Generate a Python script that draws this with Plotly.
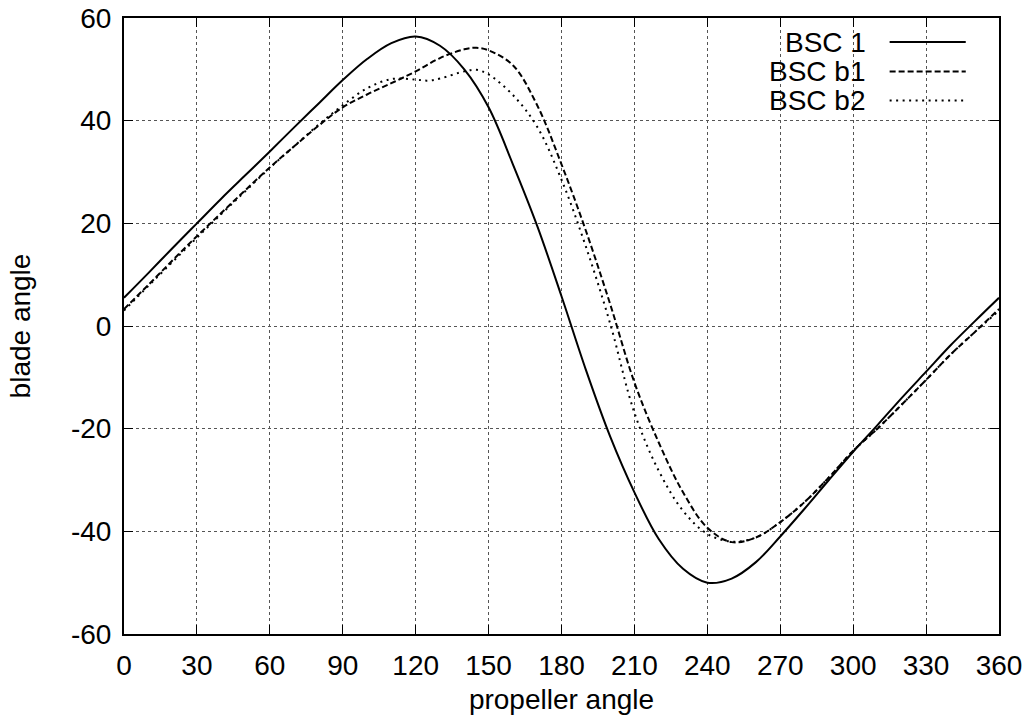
import plotly.graph_objects as go

# propeller angle (deg) / blade angle (deg)
bsc1_x = [0, 10, 20, 30, 40, 50, 60, 70, 80, 90, 100, 110, 120, 130, 140, 150, 160, 170, 180,
          190, 200, 210, 220, 230, 240, 250, 260, 270, 280, 290, 300, 310, 320, 330, 340, 350, 360]
bsc1_y = [5.5, 10.3, 15.2, 20.0, 24.8, 29.4, 34.0, 38.7, 43.3, 47.9, 52.0, 55.1, 56.4, 54.6, 50.0, 42.6, 31.5, 19.5, 5.8,
          -8.5, -21.5, -32.4, -41.5, -47.3, -50.0, -49.2, -46.0, -41.0, -35.6, -30.0, -24.5, -19.3, -14.0, -8.9, -3.8, 0.9, 5.5]

b1_x = [0, 10, 20, 30, 40, 50, 60, 70, 80, 90, 100, 110, 120, 130, 140, 145, 150, 160, 170, 180,
        190, 200, 210, 220, 230, 240, 250, 260, 270, 280, 290, 300, 310, 320, 330, 340, 350, 360]
b1_y = [3.3, 8.0, 12.8, 17.5, 22.0, 26.5, 30.9, 35.0, 39.0, 42.6, 45.1, 47.3, 49.6, 52.2, 53.9, 54.2, 53.7, 50.8, 43.0, 31.5,
        18.6, 4.3, -11.0, -22.7, -32.4, -39.3, -42.1, -41.2, -38.2, -34.3, -29.5, -24.3, -20.0, -15.3, -10.5, -5.6, -1.2, 3.3]

b2_x = [0, 10, 20, 30, 40, 50, 60, 70, 80, 90, 100, 110, 120, 125, 130, 140, 145, 150, 160, 170, 180,
        190, 200, 210, 220, 230, 240, 250, 260, 270, 280, 290, 300, 310, 320, 330, 340, 350, 360]
b2_y = [3.0, 7.8, 12.5, 17.2, 21.8, 26.3, 30.8, 35.0, 39.2, 43.0, 46.3, 48.1, 48.0, 47.8, 48.2, 49.6, 49.9, 49.0, 45.0, 38.8, 28.5,
        15.5, 0.5, -16.9, -28.2, -36.0, -40.5, -42.0, -41.2, -38.2, -34.3, -29.5, -24.3, -20.0, -15.3, -10.5, -5.6, -1.2, 3.0]

x_ticks = [0, 30, 60, 90, 120, 150, 180, 210, 240, 270, 300, 330, 360]
y_ticks = [-60, -40, -20, 0, 20, 40, 60]

names = ["BSC 1", "BSC b1", "BSC b2"]
dashes = ["solid", "6px,3px", "2px,4.5px"]

fig = go.Figure()
for nm, xs, ys, d in zip(names, [bsc1_x, b1_x, b2_x], [bsc1_y, b1_y, b2_y], dashes):
    fig.add_trace(go.Scatter(x=xs, y=ys, name=nm, mode="lines",
                             line=dict(color="black", width=2, dash=d, shape="spline", smoothing=1.0),
                             showlegend=False))

# gnuplot style key: text right aligned, sample line on the right
key_y = [0.961, 0.913, 0.866]
for nm, d, ky in zip(names, dashes, key_y):
    fig.add_annotation(x=0.850, y=ky, xref="paper", yref="paper", text=nm, showarrow=False,
                       xanchor="right", yanchor="middle", font=dict(size=28, color="black"))
    fig.add_shape(type="line", xref="paper", yref="paper", x0=0.875, x1=0.962, y0=ky, y1=ky,
                  line=dict(color="black", width=2, dash=d))

axis_style = dict(showline=True, linecolor="black", linewidth=2, mirror="ticks",
                  ticks="inside", ticklen=9, tickwidth=1, tickcolor="black",
                  showgrid=True, gridcolor="#555555", griddash="dot", gridwidth=1,
                  zeroline=False, tickfont=dict(size=28, color="black"),
                  ticklabeloverflow="allow")

fig.update_xaxes(range=[0, 360], tickmode="array", tickvals=x_ticks, ticktext=[str(v) for v in x_ticks],
                 ticklabelstandoff=5,
                 title=dict(text="propeller angle", font=dict(size=28, color="black"), standoff=10),
                 **axis_style)
fig.update_yaxes(range=[-60, 60], tickmode="array", tickvals=y_ticks, ticktext=[str(v) for v in y_ticks],
                 ticklabelstandoff=5,
                 title=dict(text="blade angle", font=dict(size=28, color="black"), standoff=32),
                 **axis_style)

fig.update_layout(width=1032, height=727, plot_bgcolor="white", paper_bgcolor="white",
                  font=dict(family="Liberation Sans, Arial, sans-serif", color="black"),
                  margin=dict(l=124, r=33, t=18, b=93, autoexpand=False))

# drop the default 8px body margin so the figure fills the window
fig.write_html("out.html", config={"displayModeBar": False},
               post_script="document.body.style.margin='0';document.body.style.overflow='hidden';")
